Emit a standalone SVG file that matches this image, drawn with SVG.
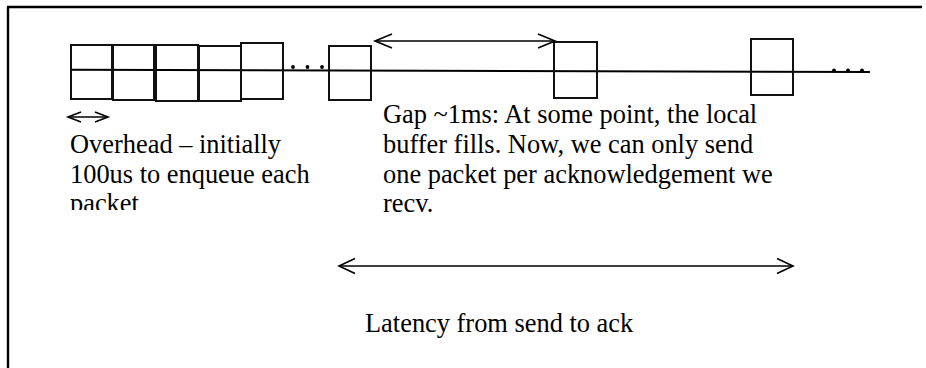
<svg xmlns="http://www.w3.org/2000/svg" width="926" height="368" viewBox="0 0 926 368">
<style>
.pkt{fill:none;stroke:#111;stroke-width:2}
.t{font-family:"Liberation Serif","Times New Roman",serif;font-size:26.4px;fill:#000}
.ar{fill:none;stroke:#000;stroke-width:1.6}
.dot{fill:#000}
</style>
<defs>
<clipPath id="clipL"><rect x="60" y="125" width="280" height="85"/></clipPath>
</defs>
<rect width="926" height="368" fill="#fff"/>
<g id="frame">
<line x1="8" y1="7" x2="8" y2="368" stroke="#000" stroke-width="2.4"/>
<line x1="7" y1="7" x2="922" y2="7" stroke="#000" stroke-width="2.4"/>
</g>
<g id="timeline">
<line x1="71" y1="69.8" x2="870" y2="72" stroke="#000" stroke-width="2"/>
<circle class="dot" cx="293" cy="67" r="1.9"/><circle class="dot" cx="307.5" cy="67" r="1.9"/><circle class="dot" cx="322" cy="67" r="1.9"/>
<circle class="dot" cx="834" cy="70.5" r="1.9"/><circle class="dot" cx="848" cy="70.5" r="1.9"/><circle class="dot" cx="862" cy="70.5" r="1.9"/>
</g>
<g id="p1"><rect class="pkt" x="71" y="45" width="41" height="54"/></g>
<g id="p2"><rect class="pkt" x="113" y="45" width="41" height="55"/></g>
<g id="p3"><rect class="pkt" x="156" y="45" width="42" height="56"/></g>
<g id="p4"><rect class="pkt" x="199" y="46" width="42" height="55"/></g>
<g id="p5"><rect class="pkt" x="241" y="43" width="42" height="56"/></g>
<g id="p6"><rect class="pkt" x="329" y="46" width="42" height="54"/></g>
<g id="p7"><rect class="pkt" x="554" y="42" width="43" height="56"/></g>
<g id="p8"><rect class="pkt" x="751" y="39" width="42" height="56"/></g>
<g id="connectors">
<g id="overhead-arrow">
<line class="ar" x1="68" y1="117" x2="108" y2="117"/>
<polyline class="ar" points="81,112 68,117 81,122"/>
<polyline class="ar" points="95,112 108,117 95,122"/>
</g>
<g id="gap-arrow">
<line class="ar" x1="375" y1="41" x2="555" y2="41"/>
<polyline class="ar" points="392,34 375,41 392,48"/>
<polyline class="ar" points="538,34 555,41 538,48"/>
</g>
<g id="latency-arrow">
<line class="ar" x1="339" y1="266" x2="793" y2="266" stroke-width="2"/>
<polyline class="ar" points="355,258.5 339,266 355,273.5" stroke-width="2"/>
<polyline class="ar" points="777,258.5 793,266 777,273.5" stroke-width="2"/>
</g>
</g>
<g id="overhead-label" clip-path="url(#clipL)">
<text class="t" x="70" y="153">Overhead – initially</text>
<text class="t" x="70" y="183">100us to enqueue each</text>
<text class="t" x="70" y="212">packet</text>
</g>
<g id="gap-label">
<text class="t" x="383" y="123">Gap ~1ms: At some point, the local</text>
<text class="t" x="383" y="153">buffer fills. Now, we can only send</text>
<text class="t" x="383" y="183">one packet per acknowledgement we</text>
<text class="t" x="383" y="212">recv.</text>
</g>
<g id="latency-label">
<text class="t" x="365" y="332">Latency from send to ack</text>
</g>
</svg>
